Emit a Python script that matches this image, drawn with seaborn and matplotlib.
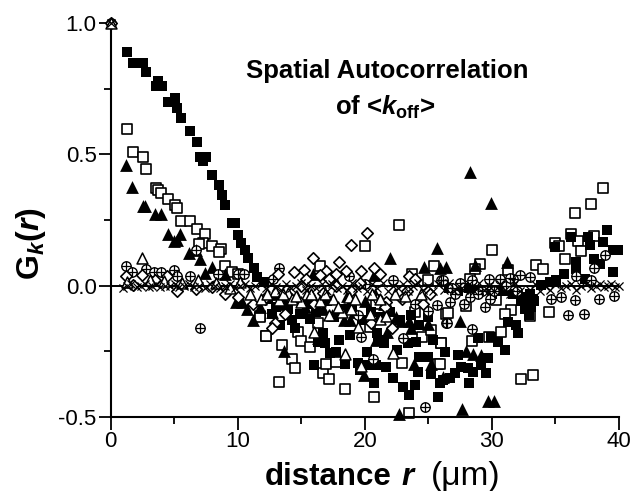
import matplotlib
matplotlib.use('Agg')
import matplotlib.pyplot as plt
import pandas as pd
import seaborn as sns

sns.set_style('ticks')
plt.rcParams['font.family'] = ['Liberation Sans', 'DejaVu Sans']
plt.rcParams['text.color'] = 'black'
plt.rcParams['mathtext.fontset'] = 'custom'
plt.rcParams['mathtext.rm'] = 'Liberation Sans:bold'
plt.rcParams['mathtext.it'] = 'Liberation Sans:italic:bold'
plt.rcParams['mathtext.bf'] = 'Liberation Sans:bold'

# valores
filled_sq_x = [1.3,1.77,2.32,2.55,2.8,3.73,3.58,4.05,4.52,5.07,5.23,5.54,6.25,6.8,7.04,7.5,7.27,8.0,8.53,8.77,9.0,9.55,9.79,10.0,10.3,10.6,10.8,11.3,11.5,12.1,
               12.67,13.32,14.24,14.5,14.9,15.15,15.68,16.72,16.33,16.85,17.95,18.82,17.25,17.77,18.43,16.0,20.2,21.0,21.04,21.5,19.47,19.6,20.13,20.9,21.7,22.2,20.7,23.0,23.92,23.45,25.75,25.2,24.2,24.3,25.0,26.3,25.4,24.05,23.4,22.5,26.15,25.9,
               26.7,27.08,27.6,27.34,28.1,28.5,28.2,29.5,29.17,29.7,28.9,29.96,30.5,31.0,31.27,31.9,32.05,32.7,33.1,33.9,34.54,35.06,35.7,35.0,36.24,37.55,37.68,38.73,39.04,39.5,39.9,38.07,38.47,36.63,36.63,39.5,37.3,32.6,33.2,
               12.4,13.0,13.6,14.0,15.5,16.2,17.0,17.6,18.3,19.0,19.8,20.5,21.3,22.0,22.8,23.6,24.3,25.0,
               26.6,27.3,28.2,29.0,30.0,30.9,31.7,32.3,32.6,32.9,33.3,33.0]
filled_sq_y = [.888,.846,.846,.846,.812,.778,.759,.759,.70,.713,.675,.64,.59,.546,.489,.489,.473,.42,.382,.344,.306,.238,.238,.192,.162,.135,.105,.067,.032,.013,
               -.106,-.15,-.131,-.163,-.106,-.106,-.125,-.182,-.214,-.218,-.207,-.186,-.258,-.252,-.30,-.303,-.254,-.18,-.207,-.22,-.296,-.322,-.303,-.303,-.309,-.353,-.37,-.385,-.379,-.417,-.425,-.337,-.328,-.271,-.271,-.252,-.207,-.214,-.218,-.245,-.36,-.372,
               -.353,-.334,-.309,-.264,-.315,-.328,-.372,-.334,-.302,-.275,-.201,-.195,-.214,-.245,-.138,-.15,-.182,-.068,-.08,.002,.014,.021,.046,.147,.185,.185,.154,.166,.213,.135,.135,.103,.084,.09,.065,.052,.027,-.043,-.049,
               -.05,-.08,-.05,-.09,-.07,-.10,-.06,-.12,-.09,-.07,-.13,-.1,-.12,-.1,-.13,-.11,-.15,-.12,
               -.01,-.02,-.01,-.02,-.03,-.02,-.03,-.06,-.09,-.11,-.06,-.03]

open_sq_x = [1.3,1.77,2.55,2.8,3.55,3.76,3.97,4.54,5.07,5.25,5.54,6.24,6.77,7.47,7.29,6.98,8.0,8.73,8.55,9.0,9.52,10.04,11.74,12.2,
             22.69,20.0,16.46,25.44,24.97,23.71,20.91,23.92,26.4,12.22,11.75,13.5,14.24,14.5,13.24,14.76,15.02,15.73,16.33,16.72,16.99,17.2,17.72,18.45,20.7,23.45,22.95,24.5,25.75,26.0,25.2,20.39,
             30.0,29.04,28.7,28.26,31.27,33.23,32.26,38.73,37.76,36.5,36.24,35.0,35.3,36.76,38.07,37.0,35.77,33.5,34.0,34.5,33.0,31.5,31.0,30.74,29.8,28.44,26.55,26.03,25.9,28.0,30.35]
open_sq_y = [.595,.507,.489,.443,.373,.363,.353,.329,.306,.296,.246,.245,.215,.196,.163,.158,.15,.141,.128,.074,.052,.046,-.116,-.191,
             .232,.151,.074,.074,.021,.046,-.068,-.10,-.106,-.19,-.119,-.226,-.281,-.315,-.367,-.176,-.21,-.233,-.144,-.332,-.30,-.356,-.29,-.395,-.425,-.486,-.294,-.195,-.30,-.22,-.17,-.157,
             .137,.084,.065,.025,.059,-.34,-.357,.373,.31,.278,.198,.163,.15,.17,.188,.131,.103,.078,.063,-.1,-.116,-.091,-.108,-.178,-.195,-.211,-.103,-.218,-.3,-.077,-.055]

filled_tri_x = [1.22,1.71,2.53,2.71,3.5,3.94,4.49,4.99,5.46,5.25,6.19,6.7,7.03,7.42,8.0,9.0,9.91,10.38,10.75,11.22,11.74,
                21.96,25.7,24.63,25.89,26.41,20.73,17.77,15.94,12.67,13.63,22.48,22.88,23.45,24.97,23.66,21.75,20.9,18.35,18.82,16.33,23.87,25.2,19.92,26.15,22.67,
                28.26,29.96,31.2,28.7,27.47,27.94,28.5,29.17,29.7,30.2,27.68,
                12.9,13.4,14.7,15.3,16.0,16.7,17.4,18.6,19.2,20.0,20.8,21.5]
filled_tri_y = [.458,.376,.302,.302,.274,.274,.196,.17,.196,.173,.125,.137,.1,.049,.071,.046,-.062,-.062,-.087,-.131,-.08,
                .107,.145,.071,.069,.071,.04,.014,.044,-.1,-.249,-.119,-.134,-.134,-.147,-.163,-.176,-.207,-.131,-.131,-.201,-.299,-.299,-.34,-.347,-.489,
                .433,.316,.09,.078,-.135,-.249,-.262,-.264,-.44,-.44,-.471,
                -.03,-.07,-.04,-.08,-.05,-.09,-.11,-.04,-.1,-.06,-.03,-.07]

open_tri_x = [0,2.45,1.3,3.1,4.2,5.6,6.9,8.3,9.4,10.2,11.0,11.8,12.93,13.24,13.97,14.24,15.49,15.02,16.46,17.51,18.77,18.95,18.22,17.2,20.39,21.17,21.7,19.47,15.99,18.43,19.73,22.22,
              12.3,13.6,14.6,15.8,16.9,17.9,19.2,20.6,21.2,22.4,23.2,24.4]
open_tri_y = [1.0,.107,.015,.02,.018,.012,.02,.01,-.01,.015,-.03,-.05,-.02,-.055,-.027,-.052,-.033,-.062,-.058,-.052,-.045,-.087,-.102,-.112,-.106,-.128,-.115,-.157,-.178,-.261,-.306,-.258,
              -.03,-.03,-.04,-.03,-.03,-.08,-.05,-.03,-.05,-.03,-.04,-.03]

diamond_x = [0,1.22,1.79,2.45,3.5,4.46,5.25,6.72,9.0,10.04,11.22,12.13,7.95,
             20.2,18.95,15.94,17.95,20.7,19.73,21.23,18.5,16.99,15.23,14.45,13.19,16.46,17.72,15.4,17.2,23.45,23.92,16.72,13.71,12.93,12.67,20.47,22.17,21.7,22.95,24.58,21.57,12.27,
             14.0,15.0,16.0,17.7,18.9,19.6,23.3,25.1]
diamond_y = [1.0,.036,.002,.04,.021,.036,-.02,-.011,-.03,-.043,-.068,-.049,-.005,
             .201,.154,.106,.09,.069,.056,.046,.056,.056,.059,.052,.046,.04,.044,.027,.027,.036,.027,-.027,-.106,-.144,-.163,-.144,-.163,-.062,-.049,-.068,-.081,-.043,
             -.04,0,-.07,0,-.02,.01,-.02,-.03]

circle_x = [0,1.19,1.71,2.76,3.42,3.97,5.01,5.25,6.24,7.03,6.7,8.47,10.04,10.48,
            13.24,12.8,18.77,20.0,22.22,25.96,19.47,19.73,23.0,24.71,20.65,24.97,25.7,26.41,23.92,21.04,21.7,
            36.5,36.0,37.23,39.64,38.41,35.45,34.67,32.2,33.0,38.0,38.9,36.63,37.81,29.49,27.78,26.48,28.47,26.69,30.6,29.83,28.26,31.66,26.16,
            26.9,27.5,28.4,29.2,29.8,30.2,31.1,31.4,32.0,28.9,27.1]
circle_y = [1.0,.075,.052,.062,.052,.052,.059,.036,.037,-.162,.135,.046,.046,.046,
            .068,.027,.036,.005,.023,.021,-.112,-.195,-.199,-.463,-.281,-.097,-.072,-.144,-.068,-.049,-.081,
            -.055,-.112,-.106,-.039,-.049,-.043,-.049,.04,.033,.068,.118,.036,.023,-.083,-.07,-.144,-.166,-.062,.027,-.049,-.043,.027,.021,
            -.01,.01,.02,-.02,.025,-.02,0,.03,-.02,-.03,-.03]

cross_x = [0,.95,1.3,1.6,2.1,2.4,2.7,3.0,3.3,3.6,3.9,4.3,4.7,5.1,5.4,5.8,6.2,6.6,7.0,7.4,7.8,8.2,8.6,9.0,9.4,9.8,10.2,10.6,11.0,11.4,11.8,
           12.2,12.6,13.0,13.4,13.8,14.2,14.6,15.0,15.4,15.8,16.2,16.6,17.0,17.4,17.8,18.2,18.6,19.0,19.4,19.8,20.2,20.6,21.0,21.4,21.8,22.2,22.6,23.0,23.4,23.8,24.2,24.6,25.0,25.4,25.8,
           26.2,26.6,27.0,27.4,27.8,28.2,28.6,29.0,29.4,29.8,30.2,30.6,31.0,31.4,31.8,32.2,32.6,33.0,33.4,33.8,34.2,34.6,35.0,35.4,35.8,36.2,36.6,37.0,37.4,37.8,38.2,38.5,38.8,39.1,39.4,39.7,40.0]
cross_y = [1.0,-.01,0,.005,-.005,0,.005,-.005,0,.005,-.005,0,0,.005,-.005,0,.005,-.005,0,-.01,.005,0,-.01,0,.005,-.01,0,.005,-.01,0,.005,
           -.01,.005,-.005,-.015,.005,-.01,0,.01,-.015,0,-.01,.005,-.02,.005,-.01,0,-.015,.01,-.01,0,-.02,.005,-.01,.01,-.02,0,-.01,.005,-.02,0,.01,-.015,0,-.02,.005,
           -.015,.01,-.02,0,-.015,.005,-.02,.01,-.015,0,-.02,.005,-.015,-.03,.01,-.02,-.04,-.015,.005,-.02,0,-.015,.005,-.01,0,.005,-.015,0,.005,-.01,0,.005,-.005,0,.005,-.005,0]

sq = pd.DataFrame({'r': filled_sq_x, 'g': filled_sq_y})
osq = pd.DataFrame({'r': open_sq_x, 'g': open_sq_y})
tri = pd.DataFrame({'r': filled_tri_x, 'g': filled_tri_y})
otri = pd.DataFrame({'r': open_tri_x, 'g': open_tri_y})
dia = pd.DataFrame({'r': diamond_x, 'g': diamond_y})
circ = pd.DataFrame({'r': circle_x, 'g': circle_y})
cross = pd.DataFrame({'r': cross_x, 'g': cross_y})

fig = plt.figure(figsize=(6.37, 4.91), dpi=100)
ax = fig.add_axes([110.5 / 637, 1 - 417 / 491, 508.5 / 637, 394 / 491])

ax.axhline(0, color='black', lw=1.4, zorder=1)
kw = dict(x='r', y='g', ax=ax, clip_on=False, legend=False)
sns.scatterplot(data=osq, marker='s', s=46, facecolor='white', edgecolor='black', linewidth=1.2, zorder=2, **kw)
sns.scatterplot(data=sq, marker='s', s=56, color='black', linewidth=0, zorder=3, **kw)
sns.scatterplot(data=tri, marker='^', s=85, color='black', linewidth=0, zorder=4, **kw)
sns.scatterplot(data=circ, marker='o', s=46, facecolor='white', edgecolor='black', linewidth=1.0, zorder=5, **kw)
sns.scatterplot(data=circ, marker='+', s=46, color='black', linewidth=0.9, zorder=5, **kw)
sns.scatterplot(data=dia, marker='D', s=34, facecolor='white', edgecolor='black', linewidth=1.2, zorder=6, **kw)
sns.scatterplot(data=otri, marker='^', s=62, facecolor='white', edgecolor='black', linewidth=1.1, zorder=7, **kw)
sns.scatterplot(data=cross, marker='x', s=34, color='black', linewidth=0.9, zorder=8, **kw)

ax.set_xlim(0, 40)
ax.set_ylim(-0.5, 1.0)
ax.set_xticks([0, 10, 20, 30, 40])
ax.set_xticks([5, 15, 25, 35], minor=True)
ax.set_yticks([-0.5, 0.0, 0.5, 1.0])
ax.set_yticks([-0.25, 0.25, 0.75], minor=True)
ax.set_yticklabels(['-0.5', '0.0', '0.5', '1.0'])
ax.tick_params(axis='both', which='major', labelsize=16, length=9, width=1.3, color='black', labelcolor='black', pad=1)
ax.tick_params(axis='both', which='minor', length=5, width=1.3, color='black')
ax.set_xlabel('')
ax.set_ylabel('')
sns.despine(ax=ax)
for side in ['left', 'bottom']:
    ax.spines[side].set_linewidth(1.5)
    ax.spines[side].set_color('black')

fig.text(387 / 637, 1 - 71 / 491, 'Spatial Autocorrelation', ha='center', va='center', fontsize=18.5, fontweight='bold')
fig.text(385 / 637, 1 - 107 / 491, r'of <$\mathit{k}_{\mathrm{off}}$>', ha='center', va='center', fontsize=18.5, fontweight='bold')
fig.text(31 / 637, 1 - 244 / 491, r'$\mathrm{G}_{\mathit{k}}\mathrm{(}\mathit{r}\mathrm{)}$', rotation=90, ha='center', va='center', fontsize=23)
fig.text(265 / 637, 1 - 477 / 491, 'distance', ha='left', va='center', fontsize=22.5, fontweight='bold')
fig.text(401 / 637, 1 - 477 / 491, 'r', ha='left', va='center', fontsize=22.5, fontweight='bold', style='italic')
fig.text(431 / 637, 1 - 477 / 491, '(\u03bcm)', ha='left', va='center', fontsize=24)

fig.savefig('out.png', dpi=100)
